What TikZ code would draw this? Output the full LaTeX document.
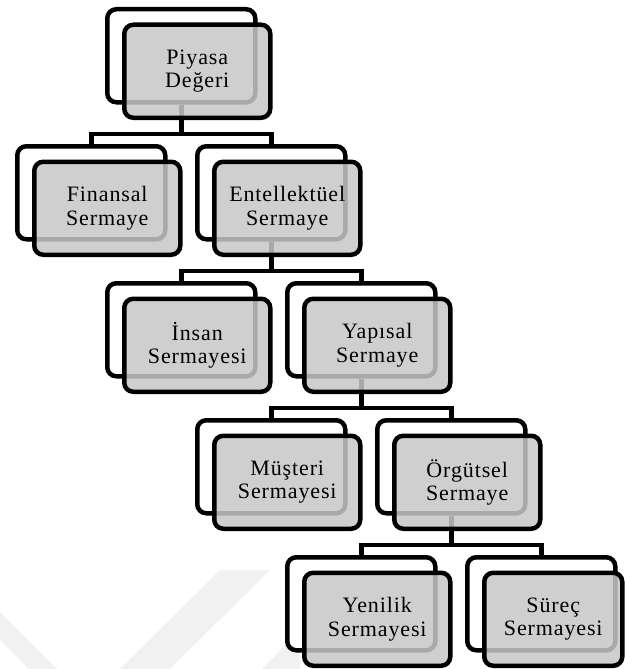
\documentclass[tikz,border=0pt]{standalone}
\usepackage{fontspec}
\setmainfont{Liberation Serif}[LetterSpace=4]
\definecolor{boxgray}{RGB}{199,199,199}
\definecolor{markgray}{RGB}{241,241,241}
\begin{document}
\begin{tikzpicture}[x=1pt,y=-1pt,
  backbox/.style={draw=black, line width=4.5pt, fill=white, rounded corners=9pt,
    minimum width=148pt, minimum height=93pt, anchor=north west, inner sep=0pt},
  frontbox/.style={draw=black, line width=4.5pt, fill=boxgray, fill opacity=0.85,
    text opacity=1, rounded corners=9pt, minimum width=146pt, minimum height=93pt,
    anchor=north west, inner sep=0pt, align=center,
    font=\fontsize{22}{23.5}\selectfont},
  link/.style={draw=black, line width=4.5pt}]
\useasboundingbox (0,0) rectangle (624,669);

% faint background bands
\fill[markgray] (120,669) -- (220,570) -- (270,570) -- (170,669) -- cycle;
\fill[markgray] (0,612) -- (0,640) -- (29,669) -- (57,669) -- cycle;
\fill[markgray] (262,669) -- (300,630) -- (300,669) -- cycle;

% back boxes
\node[backbox] (piyasab)   at (105,7)   {};
\node[backbox] (finansalb) at (15,144)  {};
\node[backbox] (entelb)    at (195,144) {};
\node[backbox] (insanb)    at (105,281) {};
\node[backbox] (yapisalb)  at (285,281) {};
\node[backbox] (musterib)  at (195,418) {};
\node[backbox] (orgutselb) at (375,418) {};
\node[backbox] (yenilikb)  at (285,555) {};
\node[backbox] (surecb)    at (465,555) {};

% connectors
\coordinate (bar1) at ([yshift=10pt]finansalb.north);
\coordinate (bar2) at ([yshift=10pt]insanb.north);
\coordinate (bar3) at ([yshift=10pt]musterib.north);
\coordinate (bar4) at ([yshift=10pt]yenilikb.north);
\draw[link] (piyasab.south) -- (piyasab.south |- bar1);
\draw[link] (finansalb.north) -- (bar1) -| (entelb.north);
\draw[link] (entelb.south) -- (entelb.south |- bar2);
\draw[link] (insanb.north) -- (bar2) -| (yapisalb.north);
\draw[link] (yapisalb.south) -- (yapisalb.south |- bar3);
\draw[link] (musterib.north) -- (bar3) -| (orgutselb.north);
\draw[link] (orgutselb.south) -- (orgutselb.south |- bar4);
\draw[link] (yenilikb.north) -- (bar4) -| (surecb.north);

% front boxes
\node[frontbox] (piyasa)   at (122,22.5)  {Piyasa\\Değeri};
\node[frontbox] (finansal) at (32,159.5)  {Finansal\\Sermaye};
\node[frontbox] (entel)    at (212,159.5) {Entellektüel\\Sermaye};
\node[frontbox] (insan)    at (122,296.5) {İnsan\\Sermayesi};
\node[frontbox] (yapisal)  at (302,296.5) {Yapısal\\Sermaye};
\node[frontbox] (musteri)  at (212,433.5) {Müşteri\\Sermayesi};
\node[frontbox] (orgutsel) at (392,433.5) {Örgütsel\\Sermaye};
\node[frontbox] (yenilik)  at (302,570.5) {Yenilik\\Sermayesi};
\node[frontbox, minimum width=138pt] (surec) at (482,570.5) {Süreç\\Sermayesi};
\end{tikzpicture}
\end{document}
